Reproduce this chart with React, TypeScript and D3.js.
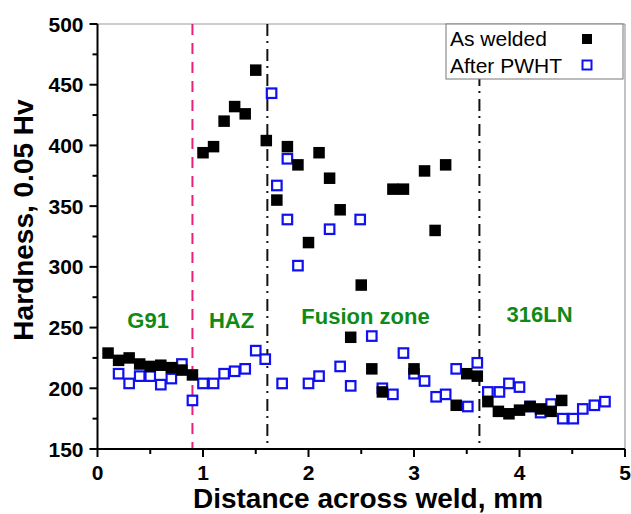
import React from "react";
import * as d3 from "d3";

const weldedX = [0.1, 0.2, 0.3, 0.4, 0.5, 0.6, 0.7, 0.8, 0.9, 1.0, 1.1, 1.2, 1.3, 1.4, 1.5, 1.6, 1.7, 1.8, 1.9, 2.0, 2.1, 2.2, 2.3, 2.4, 2.5, 2.6, 2.7, 2.8, 2.9, 3.0, 3.1, 3.2, 3.3, 3.4, 3.5, 3.6, 3.7, 3.8, 3.9, 4.0, 4.1, 4.2, 4.3, 4.4];
const weldedY = [229, 223, 225, 220, 218, 219, 217, 215, 211, 394, 399, 420, 432, 426, 462, 404, 355, 399, 384, 320, 394, 373, 347, 242, 285, 216, 197, 364, 364, 216, 379, 330, 384, 186, 212, 210, 189, 181, 179, 182, 185, 183, 181, 190];

const pwhtX = [0.2, 0.3, 0.4, 0.5, 0.6, 0.7, 0.8, 0.9, 1.0, 1.1, 1.2, 1.3, 1.4, 1.5, 1.59, 1.65, 1.7, 1.75, 1.8, 1.8, 1.9, 2.0, 2.1, 2.2, 2.3, 2.4, 2.49, 2.6, 2.7, 2.8, 2.9, 3.0, 3.1, 3.21, 3.3, 3.4, 3.51, 3.6, 3.7, 3.81, 3.9, 4.0, 4.1, 4.2, 4.3, 4.41, 4.51, 4.6, 4.71, 4.81];
const pwhtY = [212, 204, 210, 210, 203, 208, 220, 190, 204, 204, 212, 214, 216, 231, 224, 443, 367, 204, 389, 339, 301, 204, 210, 331, 218, 202, 339, 243, 200, 195, 229, 212, 206, 193, 195, 216, 185, 221, 197, 197, 204, 201, 185, 180, 187, 175, 175, 183, 186, 189];

const xTicks = [0, 1, 2, 3, 4, 5];
const xMinor = [0.5, 1.5, 2.5, 3.5, 4.5];
const yTicks = [150, 200, 250, 300, 350, 400, 450, 500];
const yMinor = [175, 225, 275, 325, 375, 425, 475];

const zoneBounds = [0.9, 1.61, 3.62];
const zoneLabels = ["G91", "HAZ", "Fusion zone", "316LN"];
const zoneLabelX = [0.48, 1.27, 2.54, 4.19];
const zoneLabelY = [250, 250, 253, 255];

const seriesNames = ["As welded", "After PWHT"];

export default function App() {
  const W = 631, H = 514;
  const x = d3.scaleLinear().domain([0, 5]).range([97.5, 625]);
  const y = d3.scaleLinear().domain([150, 500]).range([449, 24]);
  const font = "'Liberation Sans', Arial, Helvetica, sans-serif";
  const green = "#0f8a14";
  const blue = "#1010f0";
  const welded = weldedX.map((v, i) => ({ x: v, y: weldedY[i] }));
  const pwht = pwhtX.map((v, i) => ({ x: v, y: pwhtY[i] }));
  const bs = 11.5;
  const os = 9.5;
  return (
    <svg width={W} height={H} style={{ position: "absolute", left: 0, top: 0, background: "#fff" }} fontFamily={font}>
      {/* frame top/right */}
      <line x1={x(0)} x2={x(5)} y1={y(500)} y2={y(500)} stroke="#9a9a9a" strokeWidth={1.2} />
      <line x1={x(5)} x2={x(5)} y1={y(500)} y2={y(150)} stroke="#9a9a9a" strokeWidth={1.2} />

      {/* zone lines */}
      <line x1={x(zoneBounds[0])} x2={x(zoneBounds[0])} y1={y(500)} y2={y(150)} stroke="#e8207a" strokeWidth={2} strokeDasharray="11 8" />
      <line x1={x(zoneBounds[1])} x2={x(zoneBounds[1])} y1={y(500)} y2={y(150)} stroke="#111" strokeWidth={2} strokeDasharray="12 5 2 6" />
      <line x1={x(zoneBounds[2])} x2={x(zoneBounds[2])} y1={y(500)} y2={y(150)} stroke="#111" strokeWidth={2} strokeDasharray="12 5 2 6" />

      {/* zone labels */}
      {zoneLabels.map((t, i) => (
        <text key={t} x={x(zoneLabelX[i])} y={y(zoneLabelY[i])} textAnchor="middle" fontSize={22} fontWeight="bold" fill={green}>{t}</text>
      ))}

      {/* PWHT series */}
      {pwht.map((d, i) => (
        <rect key={"p" + i} x={x(d.x) - os / 2} y={y(d.y) - os / 2} width={os} height={os} fill="#fff" stroke={blue} strokeWidth={2.2} />
      ))}
      {/* As welded series */}
      {welded.map((d, i) => (
        <rect key={"w" + i} x={x(d.x) - bs / 2} y={y(d.y) - bs / 2} width={bs} height={bs} fill="#000" />
      ))}

      {/* axes */}
      <line x1={x(0)} x2={x(5)} y1={y(150)} y2={y(150)} stroke="#000" strokeWidth={2} />
      <line x1={x(0)} x2={x(0)} y1={y(500)} y2={y(150)} stroke="#000" strokeWidth={2} />
      {xTicks.map((t) => (
        <g key={"xt" + t}>
          <line x1={x(t)} x2={x(t)} y1={y(150)} y2={y(150) + 8} stroke="#000" strokeWidth={2} />
          <text x={x(t)} y={y(150) + 31} textAnchor="middle" fontSize={21} fontWeight="bold">{t}</text>
        </g>
      ))}
      {xMinor.map((t) => (
        <line key={"xm" + t} x1={x(t)} x2={x(t)} y1={y(150)} y2={y(150) + 5} stroke="#000" strokeWidth={2} />
      ))}
      {yTicks.map((t) => (
        <g key={"yt" + t}>
          <line x1={x(0) - 8} x2={x(0)} y1={y(t)} y2={y(t)} stroke="#000" strokeWidth={2} />
          <text x={x(0) - 14} y={y(t)} dy="0.36em" textAnchor="end" fontSize={21} fontWeight="bold">{t}</text>
        </g>
      ))}
      {yMinor.map((t) => (
        <line key={"ym" + t} x1={x(0) - 5} x2={x(0)} y1={y(t)} y2={y(t)} stroke="#000" strokeWidth={2} />
      ))}

      {/* axis titles */}
      <text x={368} y={508} textAnchor="middle" fontSize={28} fontWeight="bold">Distance across weld, mm</text>
      <text transform={`translate(33, ${220}) rotate(-90)`} textAnchor="middle" fontSize={28} fontWeight="bold">Hardness, 0.05 Hv</text>

      {/* legend */}
      <rect x={446} y={24} width={177} height={55} fill="#fff" stroke="#777" strokeWidth={1} />
      <text x={450} y={46} fontSize={21}>{seriesNames[0]}</text>
      <text x={450} y={73} fontSize={21}>{seriesNames[1]}</text>
      <rect x={587 - 5} y={39 - 5} width={10} height={10} fill="#000" />
      <rect x={587 - 4.5} y={65 - 4.5} width={9} height={9} fill="#fff" stroke={blue} strokeWidth={2} />
    </svg>
  );
}
